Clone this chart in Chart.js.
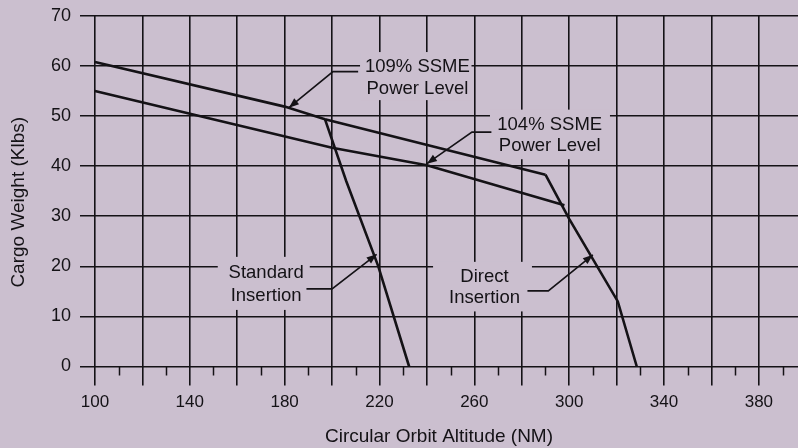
<!DOCTYPE html>
<html>
<head>
<meta charset="utf-8">
<title>Cargo Weight vs Circular Orbit Altitude</title>
<script src="https://cdn.jsdelivr.net/npm/chart.js@4.4.1/dist/chart.umd.min.js"></script>
<style>
  html, body { margin: 0; padding: 0; background: #cbbfcf; }
  #wrap { width: 798px; height: 448px; position: relative; }
</style>
</head>
<body>
<div id="wrap"><canvas id="payloadChart"></canvas></div>
<script>
// performance curves, altitude in NM and cargo weight in Klbs
const alt109 = [100, 180, 197, 290];
const wt109 = [60.8, 51.9, 49.4, 38.3];

const alt104 = [100, 200, 240, 298];
const wt104 = [55, 43.7, 40.2, 32.2];

const altStandard = [197, 206, 219.5, 232.5];
const wtStandard = [49.4, 37, 20, 0];

const altDirect = [290, 300, 320.5, 328.5];
const wtDirect = [38.3, 29.5, 13, 0];

// axis ticks
const altTicks = [100, 110, 120, 130, 140, 150, 160, 170, 180, 190, 200, 210, 220, 230, 240, 250, 260, 270, 280, 290, 300, 310, 320, 330, 340, 350, 360, 370, 380, 390];
const altLabels = [100, 140, 180, 220, 260, 300, 340, 380];
const wtTicks = [0, 10, 20, 30, 40, 50, 60, 70];

const BG = '#cbbfcf';
const INK = '#141216';
const FONT = "'Liberation Sans', Arial, Helvetica, sans-serif";

function pts(xs, ys) {
    return xs.map((x, i) => ({ x: x, y: ys[i] }));
}

function curve(label, xs, ys) {
    return {
        label: label,
        data: pts(xs, ys),
        borderColor: INK,
        borderWidth: 2.6,
        pointRadius: 0,
        fill: false,
        tension: 0
    };
}

// callout labels: text lines, centre, knock-out box, leader (data units)
const callouts = [
    { lines: ['109% SSME', 'Power Level'], cx: 236, cy: [59.8, 55.5],
      box: [211.8, 258.8, 62.8, 53.2],
      leader: [[211, 58.9], [200.4, 58.9], [181.8, 51.7]] },
    { lines: ['104% SSME', 'Power Level'], cx: 291.8, cy: [48.2, 44.0],
      box: [266.6, 317.2, 51.3, 41.4],
      leader: [[267.2, 46.8], [259, 46.8], [240, 40.5]] },
    { lines: ['Standard', 'Insertion'], cx: 172.2, cy: [18.7, 14.1],
      box: [151.8, 190.6, 21.9, 11.3],
      leader: [[189.2, 15.5], [200, 15.5], [218.8, 22.4]] },
    { lines: ['Direct', 'Insertion'], cx: 264.3, cy: [17.9, 13.7],
      box: [242.6, 284.3, 20.9, 11.0],
      leader: [[282.4, 15.1], [291.2, 15.1], [310, 22.3]] }
];

const calloutPlugin = {
    id: 'callouts',
    beforeDatasetsDraw(chart) {
        const ctx = chart.ctx;
        const xs = chart.scales.x, ys = chart.scales.y;
        ctx.save();
        ctx.fillStyle = BG;
        callouts.forEach(c => {
            const x0 = xs.getPixelForValue(c.box[0]);
            const x1 = xs.getPixelForValue(c.box[1]);
            const y0 = ys.getPixelForValue(c.box[2]);
            const y1 = ys.getPixelForValue(c.box[3]);
            ctx.fillRect(x0, y0, x1 - x0, y1 - y0);
        });
        // minor ticks under the baseline
        const base = ys.getPixelForValue(0);
        ctx.strokeStyle = INK;
        ctx.lineWidth = 1.5;
        altTicks.filter(v => v % 20 !== 0).forEach(v => {
            const px = Math.round(xs.getPixelForValue(v)) + 0.5;
            ctx.beginPath();
            ctx.moveTo(px, base);
            ctx.lineTo(px, base + 9);
            ctx.stroke();
        });
        ctx.restore();
    },
    afterDatasetsDraw(chart) {
        const ctx = chart.ctx;
        const xs = chart.scales.x, ys = chart.scales.y;
        const area = chart.chartArea;
        ctx.save();
        ctx.fillStyle = INK;
        ctx.strokeStyle = INK;
        ctx.font = '18.5px ' + FONT;
        ctx.textAlign = 'center';
        ctx.textBaseline = 'middle';
        callouts.forEach(c => {
            c.lines.forEach((t, i) => {
                ctx.fillText(t, xs.getPixelForValue(c.cx), ys.getPixelForValue(c.cy[i]));
            });
            const p = c.leader.map(q => [xs.getPixelForValue(q[0]), ys.getPixelForValue(q[1])]);
            ctx.lineWidth = 1.6;
            ctx.beginPath();
            ctx.moveTo(p[0][0], p[0][1]);
            for (let i = 1; i < p.length; i++) ctx.lineTo(p[i][0], p[i][1]);
            ctx.stroke();
            // arrow head at the tip
            const tip = p[p.length - 1], prev = p[p.length - 2];
            const ang = Math.atan2(tip[1] - prev[1], tip[0] - prev[0]);
            const len = 10, half = 3.8;
            ctx.beginPath();
            ctx.moveTo(tip[0], tip[1]);
            ctx.lineTo(tip[0] - len * Math.cos(ang) + half * Math.sin(ang),
                       tip[1] - len * Math.sin(ang) - half * Math.cos(ang));
            ctx.lineTo(tip[0] - len * Math.cos(ang) - half * Math.sin(ang),
                       tip[1] - len * Math.sin(ang) + half * Math.cos(ang));
            ctx.closePath();
            ctx.fill();
        });
        // y axis title, sitting a little below the plot centre
        ctx.font = '19px ' + FONT;
        ctx.translate(19, (area.top + area.bottom) / 2 + 11);
        ctx.rotate(-Math.PI / 2);
        ctx.fillText('Cargo Weight (Klbs)', 0, 0);
        ctx.restore();
    }
};

document.addEventListener('DOMContentLoaded', function () {
    const ctx = document.getElementById('payloadChart').getContext('2d');
    new Chart(ctx, {
        type: 'line',
        data: {
            datasets: [
                curve('109% SSME Power Level', alt109, wt109),
                curve('104% SSME Power Level', alt104, wt104),
                curve('Standard Insertion', altStandard, wtStandard),
                curve('Direct Insertion', altDirect, wtDirect)
            ]
        },
        options: {
            responsive: true,
            maintainAspectRatio: false,
            animation: false,
            layout: { padding: { top: 16, right: 0, left: 0, bottom: 0 } },
            plugins: {
                legend: { display: false },
                tooltip: { enabled: false }
            },
            scales: {
                x: {
                    type: 'linear',
                    min: 93.7,
                    max: 396.5,
                    afterBuildTicks: s => { s.ticks = altTicks.map(v => ({ value: v })); },
                    afterFit: s => { s.height = 81.5; },
                    border: { display: false },
                    grid: {
                        color: c => (c.tick && c.tick.value % 20 === 0) ? INK : 'rgba(0,0,0,0)',
                        lineWidth: c => (c.tick && c.tick.value % 20 === 0) ? 1.6 : 0,
                        tickLength: 19
                    },
                    ticks: {
                        autoSkip: false,
                        maxRotation: 0,
                        padding: 7,
                        color: INK,
                        font: { family: FONT, size: 17 },
                        callback: v => altLabels.includes(v) ? String(v) : ''
                    },
                    title: {
                        display: true,
                        text: 'Circular Orbit Altitude (NM)',
                        color: INK,
                        font: { family: FONT, size: 19 },
                        padding: { top: 12, bottom: 0 }
                    }
                },
                y: {
                    min: 0,
                    max: 70,
                    afterBuildTicks: s => { s.ticks = wtTicks.map(v => ({ value: v })); },
                    afterFit: s => {
                        s.width = 80;
                        s.paddingTop = 0;
                        s.paddingBottom = 0;
                    },
                    border: { display: false },
                    grid: { color: INK, lineWidth: 1.6, drawTicks: false },
                    ticks: {
                        padding: 9,
                        color: INK,
                        font: { family: FONT, size: 18 }
                    }
                }
            }
        },
        plugins: [calloutPlugin]
    });
});
</script>
</body>
</html>
